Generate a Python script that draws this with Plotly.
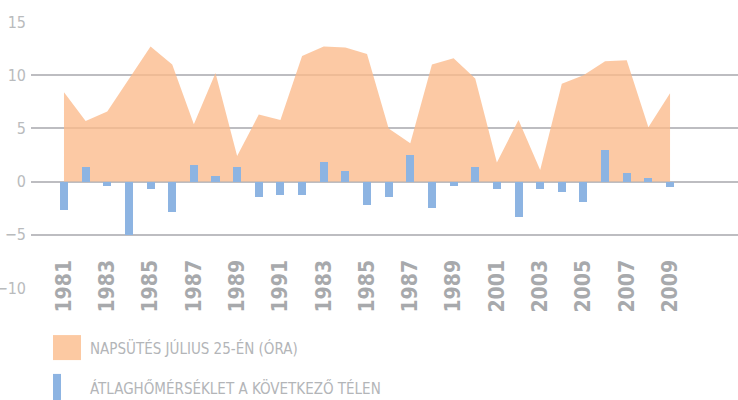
import plotly.graph_objects as go

years = list(range(1981, 2010))
sunshine = [8.4, 5.7, 6.6, 9.6, 12.7, 11.0, 5.4, 10.2, 2.4, 6.3, 5.8, 11.8, 12.7, 12.6, 12.0,
            5.0, 3.6, 11.0, 11.6, 9.7, 1.8, 5.8, 1.1, 9.2, 10.0, 11.3, 11.4, 5.1, 8.3]
winter_temp = [-2.7, 1.4, -0.4, -5.0, -0.7, -2.9, 1.6, 0.5, 1.4, -1.4, -1.3, -1.3, 1.8, 1.0, -2.2,
               -1.4, 2.5, -2.5, -0.4, 1.4, -0.7, -3.3, -0.7, -1.0, -1.9, 3.0, 0.8, 0.3, -0.5]
tick_years = [1981, 1983, 1985, 1987, 1989, 1991, 1993, 1995, 1997, 1999, 2001, 2003, 2005, 2007, 2009]
tick_labels = ["1981", "1983", "1985", "1987", "1989", "1991", "1983", "1985", "1987", "1989",
               "2001", "2003", "2005", "2007", "2009"]
y_ticks = [-10, -5, 0, 5, 10, 15]
y_tick_labels = ["−10", "−5", "0", "5", "10", "15"]
legend_names = ["NAPSÜTÉS JÚLIUS 25-ÉN (ÓRA)", "ÁTLAGHŐMÉRSÉKLET A KÖVETKEZŐ TÉLEN"]

AREA_FILL = "rgba(251,186,138,0.78)"
BAR_COLOR = "#8DB4E2"
GRID = "#BDBDC1"
FONT = "Liberation Sans Narrow, DejaVu Sans Condensed, sans-serif"

fig = go.Figure()
fig.add_trace(go.Scatter(x=years, y=sunshine, mode="lines", line=dict(width=0, color=AREA_FILL),
                         fill="tozeroy", fillcolor=AREA_FILL, name=legend_names[0],
                         showlegend=False, hoverinfo="skip"))
fig.add_trace(go.Bar(x=years, y=winter_temp, width=0.37, marker=dict(color=BAR_COLOR, line=dict(width=0)),
                     name=legend_names[1], showlegend=False, xaxis="x2", yaxis="y2"))

# mask the -10 gridline where the year labels sit
fig.add_shape(type="rect", xref="paper", yref="y", x0=0.024, x1=0.929, y0=-10.5, y1=-9.5,
              fillcolor="white", line=dict(width=0), layer="between")

# manual legend
fig.add_shape(type="rect", xref="paper", yref="paper", x0=0.0311, x1=0.0707, y0=-0.271, y1=-0.177,
              fillcolor="#FCC9A2", line=dict(width=0))
fig.add_shape(type="rect", xref="paper", yref="paper", x0=0.0311, x1=0.0424, y0=-0.421, y1=-0.323,
              fillcolor=BAR_COLOR, line=dict(width=0))
for name, yy in zip(legend_names, [-0.229, -0.376]):
    fig.add_annotation(text=name, xref="paper", yref="paper", x=0.0806, y=yy, xanchor="left",
                       yanchor="middle", showarrow=False,
                       font=dict(family=FONT, size=15, color="#B3B5B8"))

fig.update_layout(
    width=738, height=400,
    margin=dict(l=31, r=0, t=22, b=112, autoexpand=False),
    plot_bgcolor="white", paper_bgcolor="white",
    bargap=0,
    xaxis=dict(range=[1979.476, 2012.14], tickvals=tick_years, ticktext=tick_labels,
               tickangle=-90, showgrid=False, zeroline=False, showline=False, ticks="",
               anchor="free", position=0.125, automargin=False,
               tickfont=dict(family=FONT, size=21, color="#A7A9AC", weight="bold")),
    yaxis=dict(range=[-10, 15], tickvals=y_ticks, ticktext=y_tick_labels, showgrid=True,
               gridcolor=GRID, gridwidth=1.5, zeroline=False, showline=False, ticks="",
               ticklabelstandoff=4, automargin=False,
               tickfont=dict(family=FONT, size=16, color="#B9BBBD")),
    xaxis2=dict(overlaying="x", matches="x", visible=False, anchor="y2"),
    yaxis2=dict(overlaying="y", matches="y", visible=False, anchor="x2"),
)

fig.write_html("out.html", config={"displayModeBar": False},
               post_script="document.body.style.margin='0';")
